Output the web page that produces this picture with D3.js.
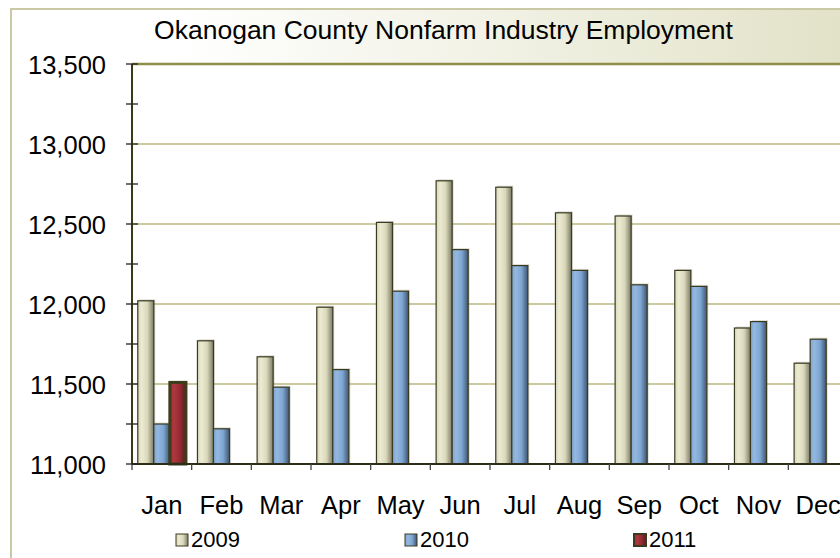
<!DOCTYPE html>
<html>
<head>
  <meta charset="utf-8">
  <title>Okanogan County Nonfarm Industry Employment</title>
  <script src="https://cdn.jsdelivr.net/npm/d3@7"></script>
  <style>
    body { margin: 0; background: #fff; }
    text { font-family: "Liberation Sans", Arial, sans-serif; fill: #000; }
  </style>
</head>
<body>
<svg id="chart" width="840" height="558"></svg>

<script>
  // values
  var months = ['Jan', 'Feb', 'Mar', 'Apr', 'May', 'Jun', 'Jul', 'Aug', 'Sep', 'Oct', 'Nov', 'Dec'];
  var years = ['2009', '2010', '2011'];
  var emp2009 = [12020, 11770, 11670, 11980, 12510, 12770, 12730, 12570, 12550, 12210, 11850, 11630];
  var emp2010 = [11250, 11220, 11480, 11590, 12080, 12340, 12240, 12210, 12120, 12110, 11890, 11780];
  var emp2011 = [11510, null, null, null, null, null, null, null, null, null, null, null];
  var yTicks = [11000, 11500, 12000, 12500, 13000, 13500];

  var series = { '2009': emp2009, '2010': emp2010, '2011': emp2011 };
  var colors = {
    '2009': ['#ecebd2', '#d9d8bb', '#7b7a66'],
    '2010': ['#94b8e0', '#7ea6d2', '#3f5571'],
    '2011': ['#b0373f', '#962c33', '#5c1b1f']
  };

  var svg = d3.select('#chart'),
    width = +svg.attr('width'),
    height = +svg.attr('height');

  var plot = { left: 132, top: 64, right: 848, bottom: 464 };

  var defs = svg.append('defs');

  // title band background: white on the left, beige on the right
  var bg = defs.append('linearGradient').attr('id', 'bandGrad')
    .attr('x1', 0).attr('y1', 0).attr('x2', 1).attr('y2', 0);
  bg.append('stop').attr('offset', '0%').attr('stop-color', '#ffffff');
  bg.append('stop').attr('offset', '20%').attr('stop-color', '#ffffff');
  bg.append('stop').attr('offset', '100%').attr('stop-color', '#e2e2c8');

  years.forEach(y => {
    var g = defs.append('linearGradient').attr('id', 'bar' + y)
      .attr('x1', 0).attr('y1', 0).attr('x2', 1).attr('y2', 0);
    g.append('stop').attr('offset', '0%').attr('stop-color', colors[y][1]);
    g.append('stop').attr('offset', '25%').attr('stop-color', colors[y][0]);
    g.append('stop').attr('offset', '60%').attr('stop-color', colors[y][1]);
    g.append('stop').attr('offset', '100%').attr('stop-color', colors[y][2]);
  });

  // chart area + outer border
  svg.append('rect')
    .attr('x', 10).attr('y', 9)
    .attr('width', width).attr('height', plot.top - 9)
    .attr('fill', 'url(#bandGrad)');
  svg.append('path')
    .attr('d', 'M11,' + height + 'V9H' + width)
    .attr('fill', 'none')
    .attr('stroke', '#c9c9a6')
    .attr('stroke-width', 2);

  var x = d3.scaleBand()
    .domain(months)
    .range([plot.left, plot.right]);

  var x1 = d3.scaleBand()
    .domain(years)
    .range([0, x.bandwidth()])
    .paddingOuter(0.36);

  var y = d3.scaleLinear()
    .domain([11000, 13500])
    .range([plot.bottom, plot.top]);

  // plot area
  svg.append('rect')
    .attr('x', plot.left).attr('y', plot.top)
    .attr('width', plot.right - plot.left).attr('height', plot.bottom - plot.top)
    .attr('fill', '#ffffff');

  // gridlines
  svg.selectAll('.grid')
    .data(yTicks.slice(1, -1))
    .enter()
    .append('line')
    .attr('x1', plot.left).attr('x2', plot.right)
    .attr('y1', d => y(d)).attr('y2', d => y(d))
    .attr('stroke', '#b8b87e')
    .attr('stroke-width', 1.5);

  svg.append('line')
    .attr('x1', plot.left).attr('x2', plot.right)
    .attr('y1', y(13500)).attr('y2', y(13500))
    .attr('stroke', '#8e8e48')
    .attr('stroke-width', 2.5);

  // bars
  var rows = [];
  months.forEach((m, i) => {
    years.forEach(yr => {
      if (series[yr][i] != null) rows.push({ month: m, year: yr, value: series[yr][i] });
    });
  });

  // soft shadow
  svg.selectAll('.shadow')
    .data(rows)
    .enter()
    .append('rect')
    .attr('x', d => x(d.month) + x1(d.year) + 1.5)
    .attr('y', d => y(d.value) - 1.5)
    .attr('width', x1.bandwidth())
    .attr('height', d => y(11000) - y(d.value) + 1.5)
    .attr('fill', 'rgba(90,90,60,0.22)');

  svg.selectAll('.bar')
    .data(rows)
    .enter()
    .append('rect')
    .attr('class', 'bar')
    .attr('x', d => x(d.month) + x1(d.year))
    .attr('y', d => y(d.value))
    .attr('width', x1.bandwidth())
    .attr('height', d => y(11000) - y(d.value))
    .attr('fill', d => 'url(#bar' + d.year + ')')
    .attr('stroke', d => d.year == '2011' ? '#3d3d1c' : '#3a3a20')
    .attr('stroke-width', d => d.year == '2011' ? 3 : 1.2);

  // x axis
  svg.append('line')
    .attr('x1', plot.left).attr('x2', plot.right)
    .attr('y1', plot.bottom).attr('y2', plot.bottom)
    .attr('stroke', '#2e2e18').attr('stroke-width', 2);

  svg.selectAll('.xtick')
    .data(months)
    .enter()
    .append('line')
    .attr('x1', d => x(d)).attr('x2', d => x(d))
    .attr('y1', plot.bottom).attr('y2', plot.bottom + 6)
    .attr('stroke', '#444').attr('stroke-width', 1.3);

  svg.selectAll('.xlabel')
    .data(months)
    .enter()
    .append('text')
    .attr('x', d => x(d) + x.bandwidth() / 2)
    .attr('y', 514)
    .attr('text-anchor', 'middle')
    .style('font-size', '25.5px')
    .text(d => d);

  // y axis
  svg.append('line')
    .attr('x1', plot.left).attr('x2', plot.left)
    .attr('y1', plot.top).attr('y2', plot.bottom)
    .attr('stroke', '#3a3a14').attr('stroke-width', 2);

  svg.selectAll('.ytick')
    .data(d3.range(11000, 13501, 250))
    .enter()
    .append('line')
    .attr('x1', plot.left - 6).attr('x2', plot.left + 6)
    .attr('y1', d => y(d)).attr('y2', d => y(d))
    .attr('stroke', '#222').attr('stroke-width', 1.3);

  svg.selectAll('.ylabel')
    .data(yTicks)
    .enter()
    .append('text')
    .attr('x', 106)
    .attr('y', d => y(d) + 9.5)
    .attr('text-anchor', 'end')
    .style('font-size', '25.5px')
    .text(d => d3.format(',')(d));

  // title
  svg.append('text')
    .attr('x', 443.5)
    .attr('y', 39)
    .attr('text-anchor', 'middle')
    .style('font-size', '26.5px')
    .text('Okanogan County Nonfarm Industry Employment');

  // legend
  var legend = svg.selectAll('.legend')
    .data(years)
    .enter()
    .append('g')
    .attr('transform', (d, i) => 'translate(' + (176 + i * 229) + ',534)');

  legend.append('rect')
    .attr('width', 12).attr('height', 12)
    .attr('fill', d => 'url(#bar' + d + ')')
    .attr('stroke', '#3a3a20')
    .attr('stroke-width', d => d == '2011' ? 2 : 1);

  legend.append('text')
    .attr('x', 15).attr('y', 12.5)
    .style('font-size', '22px')
    .text(d => d);
</script>
</body>
</html>
